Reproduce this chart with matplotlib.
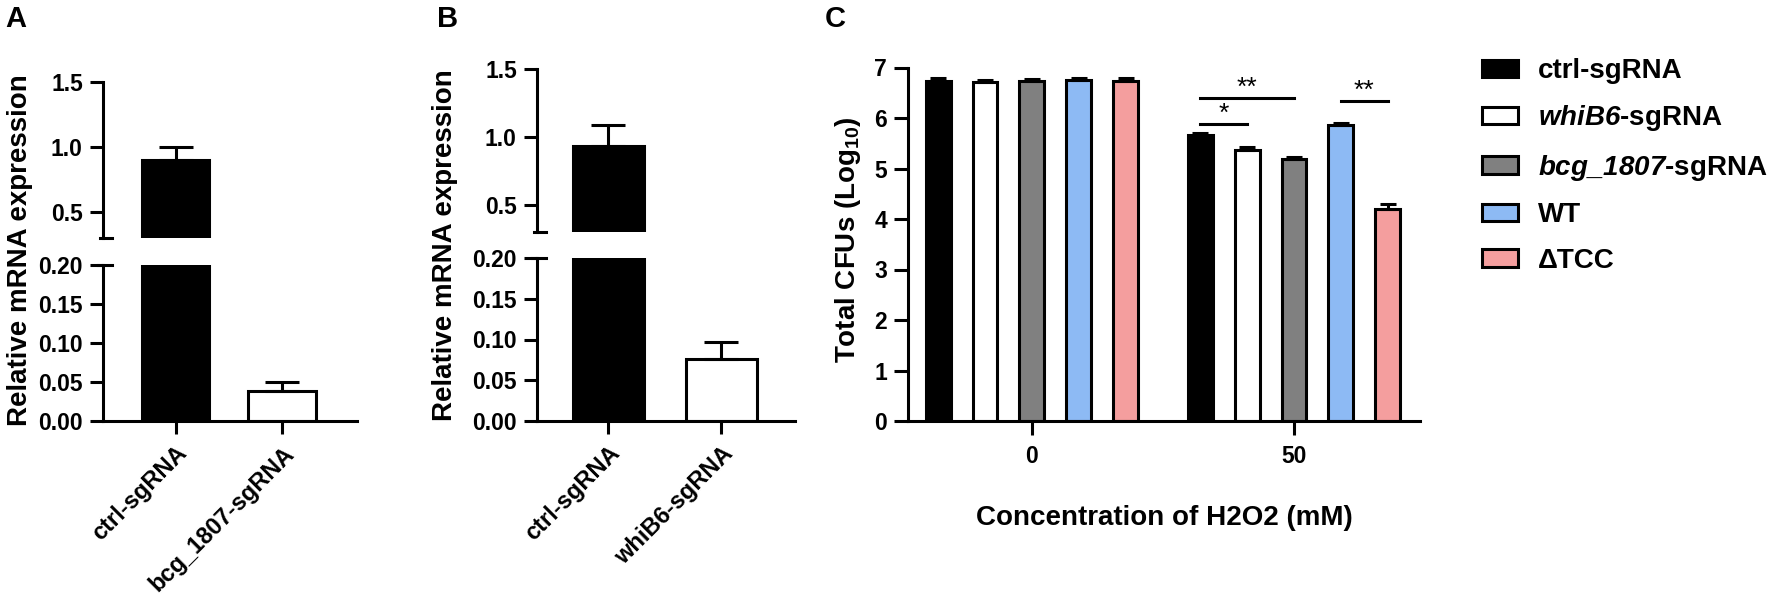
import matplotlib
matplotlib.use("Agg")
import matplotlib.pyplot as plt
import numpy as np

plt.rcParams["font.family"] = ["Liberation Sans", "DejaVu Sans"]
plt.rcParams["font.weight"] = "bold"
plt.rcParams["axes.labelweight"] = "bold"
# mathtext is only used for italic gene names and the Log10 subscript
plt.rcParams["mathtext.fontset"] = "custom"
plt.rcParams["mathtext.rm"] = "Liberation Sans:italic:bold"
plt.rcParams["mathtext.it"] = "Liberation Sans:italic:bold"
plt.rcParams["mathtext.bf"] = "Liberation Sans:bold"

# Panel A: knockdown of bcg_1807
a_labels = ["ctrl-sgRNA", "bcg_1807-sgRNA"]
a_means = [0.90, 0.039]
a_errs = [0.10, 0.011]

# Panel B: knockdown of whiB6
b_labels = ["ctrl-sgRNA", "whiB6-sgRNA"]
b_means = [0.93, 0.076]
b_errs = [0.16, 0.021]

ab_colors = ["black", "white"]

# Panel C: survival after H2O2
conc = ["0", "50"]
strains = ["ctrl-sgRNA", r"$\mathit{whiB6}$-sgRNA", r"$\mathit{bcg\_1807}$-sgRNA",
           "WT", "ΔTCC"]
strain_colors = ["black", "white", "#808080", "#8DBAF4", "#F49E9E"]
cfu_0 = [6.74, 6.71, 6.73, 6.75, 6.74]
cfu_50 = [5.66, 5.37, 5.18, 5.86, 4.20]
err_0 = [0.05, 0.04, 0.05, 0.05, 0.05]
err_50 = [0.04, 0.05, 0.05, 0.05, 0.09]

# significance marks inside the 50 mM group: (bar i, bar j, height, label)
sig_pairs = [(0, 2, 6.39, "**"), (0, 1, 5.89, "*"), (3, 4, 6.34, "**")]

W, H = 1772, 611
LW = 2.2
TICK = 16.5
fig = plt.figure(figsize=(W / 100, H / 100), dpi=100)


def rect(x0, y0, x1, y1):
    return [x0 / W, 1 - y1 / H, (x1 - x0) / W, (y1 - y0) / H]


def broken_panel(r_top, r_bot, labels, means, errs, width, xlim):
    ax_top = fig.add_axes(rect(*r_top))
    ax_bot = fig.add_axes(rect(*r_bot))
    x = np.arange(len(labels))
    for ax in (ax_top, ax_bot):
        ax.bar(x, means, width=width, color=ab_colors, edgecolor="black", linewidth=LW)
        ax.errorbar(x, means, yerr=[np.zeros(len(errs)), errs], fmt="none",
                    ecolor="black", elinewidth=LW, capsize=12.5, capthick=LW)
        ax.set_xlim(*xlim)
        ax.spines[["top", "right"]].set_visible(False)
        ax.spines["left"].set_linewidth(LW)
        ax.tick_params(axis="y", length=9.5, width=LW, pad=5, labelsize=TICK)
    ax_top.set_ylim(0.3, 1.5)
    ax_top.set_yticks([0.5, 1.0, 1.5], ["0.5", "1.0", "1.5"])
    ax_top.spines["bottom"].set_visible(False)
    ax_top.set_xticks([])
    ax_bot.set_ylim(0, 0.2)
    yt = [0, 0.05, 0.10, 0.15, 0.20]
    ax_bot.set_yticks(yt, [f"{v:.2f}" for v in yt])
    ax_bot.spines["bottom"].set_linewidth(LW)
    ax_bot.set_xticks(x, labels, rotation=45, ha="right", rotation_mode="anchor")
    ax_bot.tick_params(axis="x", length=9, width=LW, pad=6, labelsize=17)
    # break marks on the y axis
    ax_top.plot([-0.012, 0.035], [0.3, 0.3], color="black", lw=LW,
                transform=ax_top.get_yaxis_transform(), clip_on=False)
    ax_bot.plot([-0.02, 0.035], [0.2, 0.2], color="black", lw=LW,
                transform=ax_bot.get_yaxis_transform(), clip_on=False)
    return ax_top, ax_bot


broken_panel((103, 82, 357, 238), (103, 265, 357, 421), a_labels, a_means, a_errs,
             0.635, (-0.68, 1.70))
broken_panel((537, 69, 795, 232), (537, 258, 795, 421), b_labels, b_means, b_errs,
             0.63, (-0.63, 1.65))

fig.text(20 / W, 1 - 250 / H, "Relative mRNA expression", rotation=90,
         ha="center", va="center", fontsize=20)
fig.text(445 / W, 1 - 245 / H, "Relative mRNA expression", rotation=90,
         ha="center", va="center", fontsize=20)

# Panel C
axc = fig.add_axes(rect(908, 67.5, 1420, 421))
n = len(strains)
step = 0.179
offsets = (np.arange(n) - (n - 1) / 2) * step
groups = np.arange(len(conc))
handles = []
for i in range(n):
    vals = [cfu_0[i], cfu_50[i]]
    errs = [err_0[i], err_50[i]]
    b = axc.bar(groups + offsets[i], vals, width=0.095, color=strain_colors[i],
                edgecolor="black", linewidth=LW, label=strains[i])
    axc.errorbar(groups + offsets[i], vals, yerr=[[0, 0], errs], fmt="none",
                 ecolor="black", elinewidth=LW, capsize=6, capthick=LW)
    handles.append(b)

g50 = conc.index("50")
for i, j, h, txt in sig_pairs:
    x1, x2 = g50 + offsets[i], g50 + offsets[j]
    axc.plot([x1, x2], [h, h], color="black", lw=LW)
    axc.text((x1 + x2) / 2, h + 0.06, txt, ha="center", va="baseline",
             fontsize=19, fontweight="normal")

axc.set_xlim(-0.473, 1.481)
axc.set_ylim(0, 7)
axc.set_yticks(range(0, 8))
axc.set_xticks(groups, conc)
axc.spines[["top", "right"]].set_visible(False)
axc.spines[["left", "bottom"]].set_linewidth(LW)
axc.tick_params(length=10, width=LW, labelsize=TICK)
axc.tick_params(axis="y", pad=5)
axc.tick_params(axis="x", pad=7)
axc.set_xlabel("Concentration of H2O2 (mM)", fontsize=20, labelpad=27)
fig.text(848 / W, 1 - 240 / H, r"Total CFUs (Log$_{\mathbf{10}}$)", rotation=90,
         ha="center", va="center", fontsize=20)

fig.legend(handles=handles, loc="upper left", bbox_to_anchor=(1482 / W, 1 - 58 / H),
           frameon=False, prop=dict(size=20, weight="bold"), handlelength=1.3,
           handleheight=0.58, handletextpad=0.72, labelspacing=0.7,
           borderaxespad=0, borderpad=0)

for x, letter in [(5, "A"), (437, "B"), (825, "C")]:
    fig.text(x / W, 1 - 27 / H, letter, fontsize=21, va="baseline")

fig.savefig("out.png", dpi=100)
